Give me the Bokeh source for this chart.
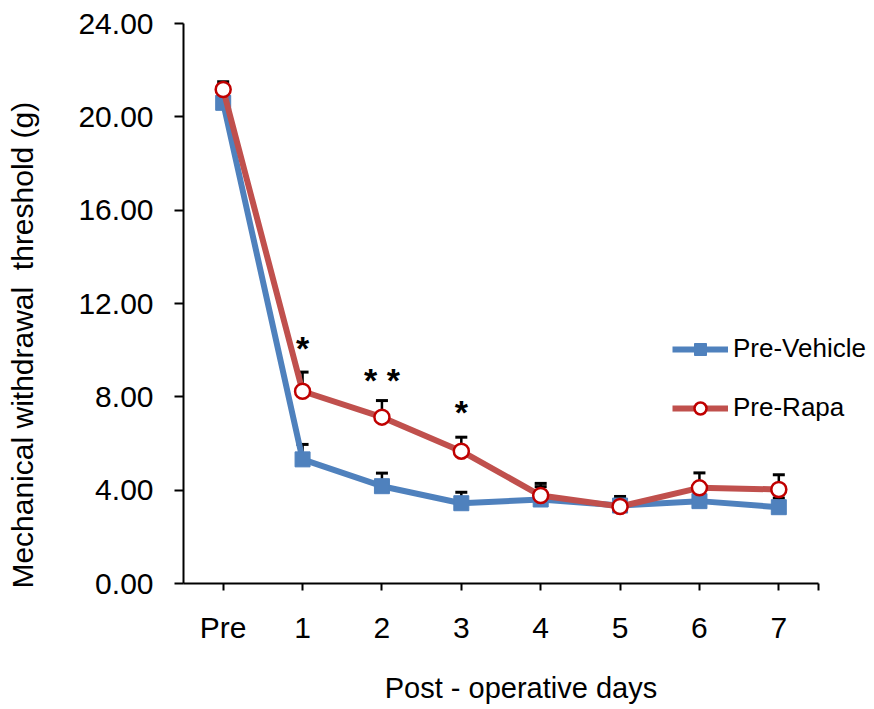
from bokeh.plotting import figure
from bokeh.models import (Range1d, FixedTicker, NumeralTickFormatter,
                          Legend, LegendItem, ColumnDataSource)
from bokeh.core.properties import value
from bokeh.embed import file_html
from bokeh.resources import INLINE

# ---- data ----
days = [0, 1, 2, 3, 4, 5, 6, 7]
day_labels = ["Pre", "1", "2", "3", "4", "5", "6", "7"]
vehicle_mean = [20.60, 5.32, 4.17, 3.44, 3.60, 3.34, 3.53, 3.27]
vehicle_sem = [0.35, 0.64, 0.56, 0.47, 0.55, 0.39, 0.40, 0.39]
rapa_mean = [21.17, 8.24, 7.13, 5.67, 3.77, 3.30, 4.10, 4.03]
rapa_sem = [0.33, 0.82, 0.71, 0.60, 0.52, 0.20, 0.64, 0.63]
star_days = [1, 2, 3]
star_texts = ["*", "* *", "*"]
star_y = [10.1, 8.72, 7.33]
y_ticks = [0, 4, 8, 12, 16, 20, 24]

FONT = "Liberation Sans"
BLUE = "#4F81BD"
RED_LINE = "#C0504D"
RED_MARK = "#C00000"
NB = "\u00a0"

# frame spans from x=183 to the right edge; category axis is drawn only over -0.5..7.5
px_per_unit = (818 - 183) / 8.0
x_end = -0.5 + (874 - 183) / px_per_unit

p = figure(width=874, height=709, output_backend="svg", toolbar_location=None,
           x_range=Range1d(-0.5, x_end), y_range=Range1d(0, 24),
           min_border_left=183, min_border_right=0, min_border_top=23,
           min_border_bottom=126)
p.outline_line_color = None
p.grid.visible = False
p.background_fill_color = "white"
p.border_fill_color = "white"

# axes
p.xaxis.ticker = FixedTicker(ticks=days + [7.5])
p.xaxis.bounds = (-0.5, 7.5)
overrides = {d: lab for d, lab in zip(days, day_labels)}
overrides[7.5] = ""
p.xaxis.major_label_overrides = overrides
p.yaxis.ticker = FixedTicker(ticks=y_ticks)
p.yaxis.formatter = NumeralTickFormatter(format="0.00")
for ax in (p.xaxis, p.yaxis):
    ax.axis_line_color = "black"
    ax.axis_line_width = 2
    ax.major_tick_line_color = "black"
    ax.major_tick_line_width = 2
    ax.major_tick_in = 0
    ax.minor_tick_line_color = None
    ax.major_label_text_font = FONT
    ax.major_label_text_font_size = "30px"
    ax.major_label_text_color = "black"
    ax.axis_label_text_font = FONT
    ax.axis_label_text_font_style = "normal"
    ax.axis_label_text_color = "black"
p.xaxis.major_tick_out = 7
p.yaxis.major_tick_out = 9
p.xaxis.major_label_standoff = 20
p.yaxis.major_label_standoff = 21

p.xaxis.axis_label = "Post - operative days" + NB * 2
p.xaxis.axis_label_text_font_size = "29px"
p.xaxis.axis_label_standoff = 25
p.yaxis.axis_label = "Mechanical withdrawal" + NB + " threshold (g)" + NB * 10
p.yaxis.axis_label_text_font_size = "30px"
p.yaxis.axis_label_standoff = 36

# error bars (upper only)
def add_errors(mean, sem):
    tops = [m + s for m, s in zip(mean, sem)]
    src = ColumnDataSource(dict(x=days, y=mean, top=tops))
    p.segment(x0="x", y0="y", x1="x", y1="top", source=src,
              line_color="black", line_width=2.5)
    p.scatter(x="x", y="top", source=src, marker="dash", size=12,
              line_color="black", line_width=3)

add_errors(vehicle_mean, vehicle_sem)
add_errors(rapa_mean, rapa_sem)

# lines and markers
vl = p.line(days, vehicle_mean, line_color=BLUE, line_width=6)
vm = p.scatter(days, vehicle_mean, marker="square", size=15,
               fill_color=BLUE, line_color=BLUE)
rl = p.line(days, rapa_mean, line_color=RED_LINE, line_width=6)
rm = p.scatter(days, rapa_mean, marker="circle", size=15,
               fill_color="white", line_color=RED_MARK, line_width=2.5)

# significance stars
p.text(x=star_days, y=star_y, text=star_texts, text_font=value(FONT),
       text_font_size="34px", text_font_style="bold", text_align="center",
       text_baseline="alphabetic", text_color="black")

# legend
legend = Legend(items=[LegendItem(label="Pre-Vehicle", renderers=[vl, vm]),
                       LegendItem(label="Pre-Rapa", renderers=[rl, rm])],
                location=(489, 160))
legend.label_text_font = FONT
legend.label_text_font_size = "26px"
legend.label_text_color = "black"
legend.glyph_width = 56
legend.glyph_height = 30
legend.label_height = 30
legend.spacing = 28
legend.padding = 0
legend.margin = 0
legend.label_standoff = 5
legend.border_line_alpha = 0
legend.background_fill_alpha = 0
p.add_layout(legend)

open("out.html", "w").write(file_html(p, INLINE))
